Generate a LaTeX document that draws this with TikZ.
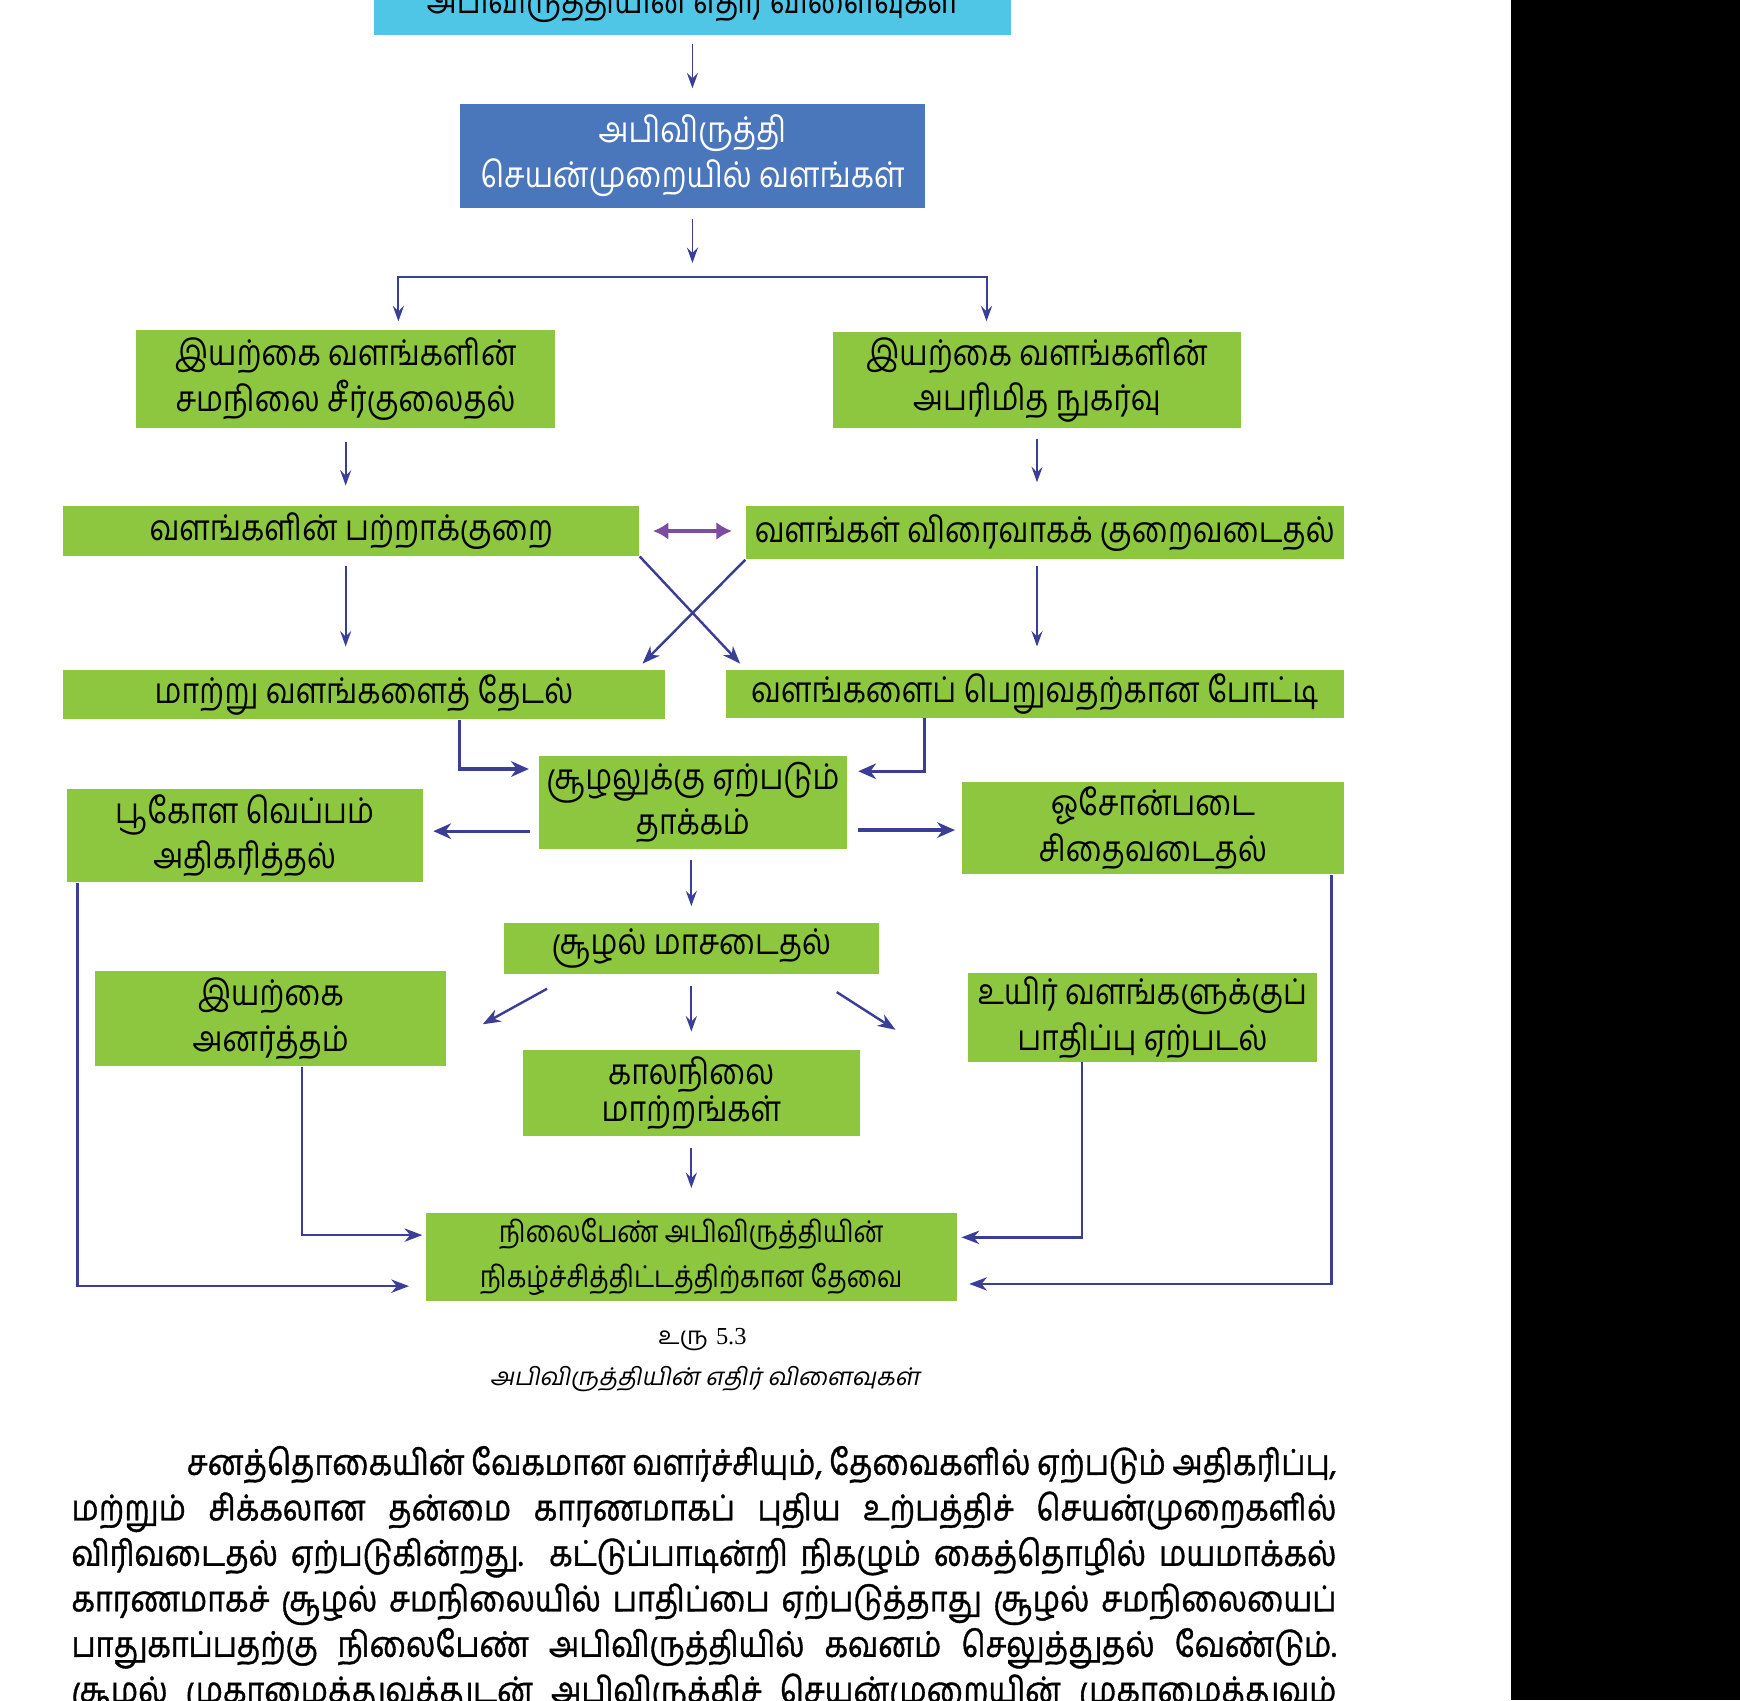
\documentclass[tikz,border=0pt]{standalone}
\usepackage{fontspec}
\usetikzlibrary{arrows.meta,calc}
\newfontfamily\ta[Script=Tamil,FakeStretch=0.85]{Hind Madurai}
\newfontfamily\tapara[Script=Tamil,FakeStretch=0.86,FakeBold=1]{Hind Madurai}
\newfontfamily\tacap[Script=Tamil]{Hind Madurai}
\newfontfamily\taslant[Script=Tamil,FakeSlant=0.2]{Hind Madurai}
\newfontfamily\serifnum{Liberation Serif}
\definecolor{gr}{RGB}{141,198,63}
\definecolor{cy}{RGB}{80,198,230}
\definecolor{bl}{RGB}{74,118,188}
\definecolor{ar}{RGB}{58,62,150}
\definecolor{pu}{RGB}{125,75,160}
\begin{document}
\begin{tikzpicture}[x=0.5pt,y=-0.5pt,
  box/.style={fill=gr, draw=none, inner sep=0pt, align=center, text=black,
    font=\ta\fontsize{16}{20.5}\selectfont},
  cbox/.style={box, fill=cy},
  bbox/.style={box, fill=bl, text=white},
  arr/.style={draw=ar, line width=0.8pt, -{Stealth[length=7pt,width=5pt,inset=2.5pt]}},
  tarr/.style={draw=ar, line width=1.5pt, -{Stealth[length=8pt,width=7pt,inset=2.5pt]}},
  marr/.style={draw=ar, line width=1.1pt, -{Stealth[length=8pt,width=6pt,inset=2.5pt]}},
  darr/.style={draw=ar, line width=0.9pt, {Stealth[length=7pt,width=5pt,inset=2.5pt]}-{Stealth[length=7pt,width=5pt,inset=2.5pt]}},
  parr/.style={draw=pu, line width=1.8pt, {Latex[length=7pt,width=8pt]}-{Latex[length=7pt,width=8pt]}},
  para/.style={anchor=base west, inner sep=0pt, font=\tapara\fontsize{16}{20.5}\selectfont}
]
\useasboundingbox (0,0) rectangle (1568,1532);
\fill[black] (1362,0) rectangle (1568,1532);

% boxes
\node[cbox, minimum width=287pt, minimum height=28pt, anchor=south] (top) at (624,32) {அபிவிருத்தியின் எதிர் விளைவுகள்};
\node[bbox, minimum width=209.5pt, minimum height=46.5pt] (dev) at (624,140.5) {அபிவிருத்தி\\செயன்முறையில் வளங்கள்};
\node[box, minimum width=188.5pt, minimum height=44.5pt] (L1) at (311.5,341.5) {இயற்கை வளங்களின்\\சமநிலை சீர்குலைதல்};
\node[box, minimum width=183.5pt, minimum height=43.5pt] (R1) at (934.5,342.5) {இயற்கை வளங்களின்\\அபரிமித நுகர்வு};
\node[box, minimum width=259.5pt, minimum height=22.5pt] (L2) at (316.5,478.5) {வளங்களின் பற்றாக்குறை};
\node[box, minimum width=269.5pt, minimum height=24pt] (R2) at (941.5,480) {வளங்கள் விரைவாகக் குறைவடைதல்};
\node[box, minimum width=271pt, minimum height=22pt] (L3) at (328,626) {மாற்று வளங்களைத் தேடல்};
\node[box, minimum width=278.5pt, minimum height=21.5pt] (R3) at (932.5,625.5) {வளங்களைப் பெறுவதற்கான போட்டி};
\node[box, minimum width=138.5pt, minimum height=42pt] (C) at (624.5,723) {சூழலுக்கு ஏற்படும்\\தாக்கம்};
\node[box, minimum width=160.5pt, minimum height=42pt] (LL) at (220.5,753) {பூகோள வெப்பம்\\அதிகரித்தல்};
\node[box, minimum width=172pt, minimum height=41.5pt] (RR) at (1039,746.5) {ஓசோன்படை\\சிதைவடைதல்};
\node[box, minimum width=169pt, minimum height=23pt] (M) at (623,855) {சூழல் மாசடைதல்};
\node[box, minimum width=158pt, minimum height=43pt] (NA) at (244,918) {இயற்கை\\அனர்த்தம்};
\node[box, minimum width=152pt, minimum height=39pt, font=\ta\fontsize{16}{17}\selectfont] (CL) at (623,985) {காலநிலை\\மாற்றங்கள்};
\node[box, minimum width=157.5pt, minimum height=40pt] (BIO) at (1029.5,917) {உயிர் வளங்களுக்குப்\\பாதிப்பு ஏற்படல்};
\node[box, minimum width=239pt, minimum height=39.5pt, font=\ta\fontsize{13.5}{20.5}\selectfont] (F) at (623,1132.5) {நிலைபேண் அபிவிருத்தியின்\\நிகழ்ச்சித்திட்டத்திற்கான தேவை};

% caption
\node[font=\fontsize{11}{13}\selectfont, inner sep=0pt] (cap1) at (633,1207) {{\tacap உரு} {\serifnum 5.3}};
\node[font=\taslant\fontsize{11}{13}\selectfont, inner sep=0pt] (cap2) at (635,1243) {அபிவிருத்தியின் எதிர் விளைவுகள்};

% paragraph
\node[para] (p1) at (168,1329) {\makebox[518pt][s]{சனத்தொகையின் வேகமான வளர்ச்சியும், தேவைகளில் ஏற்படும் அதிகரிப்பு,}};
\node[para] (p2) at (64,1370) {\makebox[570pt][s]{மற்றும் சிக்கலான தன்மை காரணமாகப் புதிய உற்பத்திச் செயன்முறைகளில்}};
\node[para] (p3) at (64,1411) {\makebox[570pt][s]{விரிவடைதல் ஏற்படுகின்றது.\ \ கட்டுப்பாடின்றி நிகழும் கைத்தொழில் மயமாக்கல்}};
\node[para] (p4) at (64,1452) {\makebox[570pt][s]{காரணமாகச் சூழல் சமநிலையில் பாதிப்பை ஏற்படுத்தாது சூழல் சமநிலையைப்}};
\node[para] (p5) at (64,1493) {\makebox[570pt][s]{பாதுகாப்பதற்கு நிலைபேண் அபிவிருத்தியில் கவனம் செலுத்துதல் வேண்டும்.}};
\node[para] (p6) at (64,1534) {\makebox[570pt][s]{சூழல் முகாமைத்துவத்துடன் அபிவிருத்திச் செயன்முறையின் முகாமைத்துவம்}};

% connectors
\draw[arr, shorten <=4pt, shorten >=7pt] (top.south) -- (dev.north);
\coordinate (sp) at (624,237);
\draw[arr, shorten <=5pt] (dev.south) -- (sp);
\coordinate (hl) at (359,250);
\coordinate (hr) at (889,250);
\draw[darr, shorten <=3.5pt, shorten >=4.5pt] (L1.north -| hl) -- (hl) -- (hr) -- (R1.north -| hr);
\draw[arr, shorten <=6pt, shorten >=9pt] (L1.south) -- (L1.south |- L2.north);
\draw[arr, shorten <=4.5pt, shorten >=10.5pt] (R1.south) -- (R1.south |- R2.north);
\draw[parr, shorten <=6pt, shorten >=6pt] (L2.east) -- (L2.east -| R2.west);
\draw[arr, shorten <=4.5pt, shorten >=10.5pt] (L2.south -| L1.south) -- (L3.north -| L1.south);
\draw[arr, shorten <=3pt, shorten >=10.5pt] (R2.south -| R1.south) -- (R3.north -| R1.south);
\coordinate (xa) at (667,598);
\coordinate (xb) at (579,598);
\draw[marr] (L2.south east) -- (xa);
\draw[marr] (R2.south west) -- (xb);
\coordinate (e1) at (414,693);
\coordinate (e2) at (833,695);
\draw[tarr, shorten >=4.5pt] (L3.south -| e1) |- (C.west |- e1);
\draw[tarr, shorten >=5pt] (R3.south -| e2) |- (C.east |- e2);
\coordinate (e3) at (0,749);
\coordinate (e4) at (0,748);
\draw[tarr, shorten <=4pt, shorten >=4.5pt] (C.west |- e3) -- (LL.east |- e3);
\draw[tarr, shorten <=5pt, shorten >=3pt] (C.east |- e4) -- (RR.west |- e4);
\draw[arr, shorten <=5pt, shorten >=7.5pt] (C.south -| M.north) -- (M.north);
\coordinate (d1s) at (493,891);
\coordinate (d1e) at (435,923);
\coordinate (d2s) at (754,894);
\coordinate (d2e) at (807,928);
\draw[marr] (d1s) -- (d1e);
\draw[marr] (d2s) -- (d2e);
\draw[arr, shorten <=5pt, shorten >=8pt] (M.south) -- (CL.north);
\draw[arr, shorten <=5pt, shorten >=11pt] (CL.south) -- (F.north);
\coordinate (f1) at (272,1113);
\coordinate (f2) at (975,1115);
\coordinate (f3) at (70,1159);
\coordinate (f4) at (1200,1157);
\draw[marr, shorten >=1.5pt] (NA.south -| f1) |- (F.west |- f1);
\draw[marr, shorten >=2pt] (BIO.south -| f2) |- (F.east |- f2);
\draw[marr, shorten >=7.5pt] (LL.south -| f3) |- (F.west |- f3);
\draw[marr, shorten >=5.5pt] (RR.south -| f4) |- (F.east |- f4);
\end{tikzpicture}
\end{document}
